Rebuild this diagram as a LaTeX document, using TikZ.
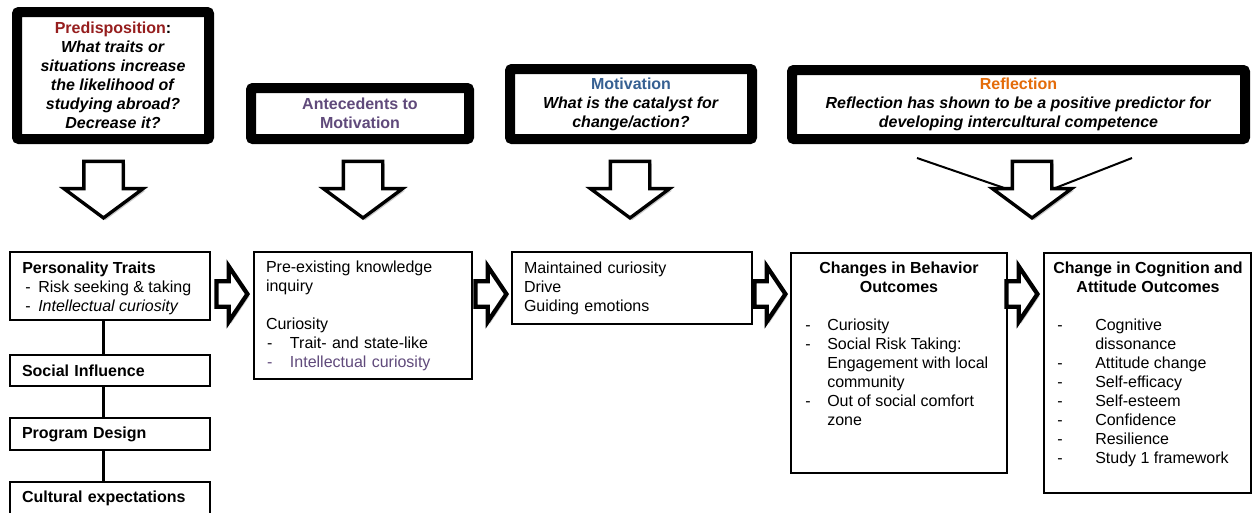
\documentclass[tikz,border=0pt]{standalone}
\usepackage{fontspec}
\setmainfont{Liberation Sans}
\usetikzlibrary{shapes.arrows,shadows}
\setlength\parindent{0pt}
\definecolor{predred}{RGB}{150,30,30}
\definecolor{antpurple}{RGB}{96,74,123}
\definecolor{motblue}{RGB}{54,96,146}
\definecolor{refor}{RGB}{228,108,10}
\newcommand\qbi[1]{\textbf{\textit{#1}}}
\begin{document}
\begin{tikzpicture}[x=0.75pt,y=-0.75pt,
  every node/.style={font=\fontsize{12}{14.25}\selectfont},
  topbox/.style={draw, line width=7.5pt, rounded corners=1.5pt, fill=white, align=center, inner sep=0pt},
  cbox/.style={draw, line width=1.5pt, fill=white, inner sep=0pt},
  lbox/.style={cbox, align=left, inner ysep=0pt},
  ltxt/.style={align=left, inner sep=0pt},
  arrshadow/.style={drop shadow={shadow xshift=1.6pt, shadow yshift=-1.6pt, opacity=0.22, fill=black}},
  downarr/.style={single arrow, draw, line width=2.5pt, fill=white, rotate=-90, arrshadow,
    inner xsep=0pt, inner ysep=13.5pt, single arrow head extend=15pt,
    single arrow tip angle=107, minimum height=42.4pt, anchor=tip},
  rarr/.style={single arrow, draw, line width=3.2pt, fill=white, arrshadow,
    inner xsep=0pt, inner ysep=7.9pt, single arrow head extend=11.25pt,
    single arrow tip angle=112, minimum height=23.25pt, anchor=tip},
  link/.style={line width=2.25pt},
  refline/.style={line width=1.5pt}
]
\clip (0,0) rectangle (1253,512);
\fill[white] (0,0) rectangle (1253,512);

% ---- top boxes ----
\node[topbox, minimum width=144pt, minimum height=95.25pt] (pred) at (113,75.5)
  {\textcolor{predred}{\textbf{Predisposition}}\textbf{:}\\
   \qbi{What traits or}\\ \qbi{situations increase}\\ \qbi{the likelihood of}\\
   \qbi{studying abroad?}\\ \qbi{Decrease it?}};
\node[topbox, minimum width=163.5pt, minimum height=38.25pt] (ante) at (360,113.5)
  {\textcolor{antpurple}{\textbf{Antecedents to}}\\ \textcolor{antpurple}{\textbf{Motivation}}};
\node[topbox, minimum width=181.5pt, minimum height=52.5pt] (moti) at (631,104)
  {\textcolor{motblue}{\textbf{Motivation}}\\ \qbi{What is the catalyst for}\\ \qbi{change/action?}};
\node[topbox, minimum width=339.75pt, minimum height=51.75pt] (refl) at (1018.5,104.5)
  {\textcolor{refor}{\textbf{Reflection}}\\ \qbi{Reflection has shown to be a positive predictor for}\\
   \qbi{developing intercultural competence}};

% ---- reflection lines (behind arrow) ----
\coordinate (rl1) at (917,158);
\coordinate (rl1e) at (1020,193.4);
\coordinate (rl2) at (1132,158);
\coordinate (rl2e) at (1045,192);
\draw[refline] (rl1) -- (rl1e);
\draw[refline] (rl2) -- (rl2e);

% ---- down arrows ----
\node[downarr] (dA1) at (103.5,220) {};
\node[downarr] (dA2) at (363,220) {};
\node[downarr] (dA3) at (630,220) {};
\node[downarr] (dA4) at (1032,220) {};

% ---- left column ----
\node[cbox, minimum width=150pt, minimum height=51pt] (pers) at (110,286) {};
\node[ltxt, anchor=west] (persT) at (22,288.5)
  {\textbf{Personality Traits}\\
   \hspace*{2.25pt}\makebox[9.75pt][l]{-}Risk seeking \& taking\\
   \hspace*{2.25pt}\makebox[9.75pt][l]{-}\textit{Intellectual curiosity}};
\node[lbox, minimum width=150pt, minimum height=23.25pt, text width=132pt, inner xsep=9pt] (soc) at (110,370.5)
  {\textbf{Social Influence}};
\node[lbox, minimum width=150pt, minimum height=24pt, text width=132pt, inner xsep=9pt] (prog) at (110,434)
  {\textbf{Program Design}};
\node[lbox, minimum width=150pt, minimum height=25.5pt, text width=132pt, inner xsep=9pt] (cult) at (110,498.5)
  {\textbf{Cultural expectations}};
\coordinate (lx) at (103,0);
\draw[link] (pers.south -| lx) -- (soc.north -| lx);
\draw[link] (soc.south -| lx) -- (prog.north -| lx);
\draw[link] (prog.south -| lx) -- (cult.north -| lx);

% ---- middle boxes ----
\node[lbox, minimum width=163.5pt, minimum height=95.25pt, text width=145.5pt, inner xsep=9pt] (prek) at (363,315.5)
  {Pre-existing knowledge\\ inquiry\\[14.25pt]
   Curiosity\\
   \hspace*{0.75pt}\makebox[17.25pt][l]{-}Trait- and state-like\\
   \textcolor{antpurple}{\hspace*{0.75pt}\makebox[17.25pt][l]{-}Intellectual curiosity}};
\node[lbox, minimum width=180pt, minimum height=54pt, text width=162pt, inner xsep=9pt] (maint) at (632,288)
  {Maintained curiosity\\ Drive\\ Guiding emotions};

% ---- behaviour box ----
\node[cbox, minimum width=162pt, minimum height=165pt] (beh) at (899,363) {};
\node[align=center, inner sep=0pt] (behH) at (899,277.5)
  {\textbf{Changes in Behavior}\\ \textbf{Outcomes}};
\node[ltxt, anchor=north west] (behL) at (805,316.7)
  {\strut\makebox[16.5pt][l]{-}Curiosity\\
   \makebox[16.5pt][l]{-}Social Risk Taking:\\
   \hspace*{16.5pt}Engagement with local\\
   \hspace*{16.5pt}community\\
   \makebox[16.5pt][l]{-}Out of social comfort\\
   \hspace*{16.5pt}zone};

% ---- cognition box ----
\node[cbox, minimum width=155.25pt, minimum height=180pt] (cog) at (1147.5,373) {};
\node[align=center, inner sep=0pt] (cogH) at (1148,277.5)
  {\textbf{Change in Cognition and}\\ \textbf{Attitude Outcomes}};
\node[ltxt, anchor=north west] (cogL) at (1057,316.7)
  {\strut\makebox[28.5pt][l]{-}Cognitive\\
   \hspace*{28.5pt}dissonance\\
   \makebox[28.5pt][l]{-}Attitude change\\
   \makebox[28.5pt][l]{-}Self-efficacy\\
   \makebox[28.5pt][l]{-}Self-esteem\\
   \makebox[28.5pt][l]{-}Confidence\\
   \makebox[28.5pt][l]{-}Resilience\\
   \makebox[28.5pt][l]{-}Study 1 framework};

% ---- horizontal block arrows ----
\node[rarr] (hA1) at (250,294) {};
\node[rarr] (hA2) at (509,294) {};
\node[rarr] (hA3) at (788,294) {};
\node[rarr] (hA4) at (1040,294) {};
\end{tikzpicture}
\end{document}
